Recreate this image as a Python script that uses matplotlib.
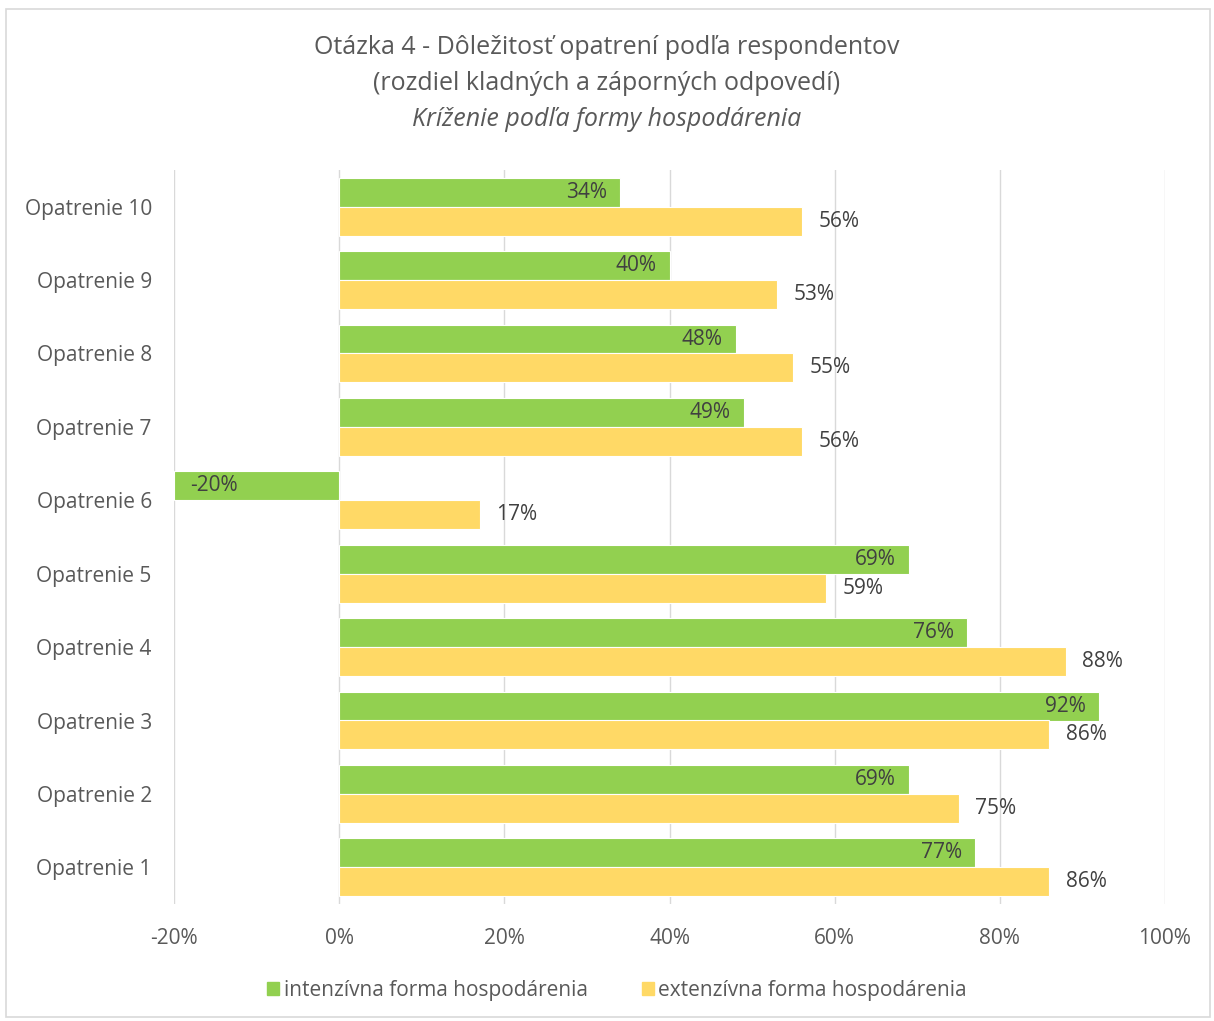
import matplotlib
matplotlib.use("Agg")
import matplotlib.pyplot as plt
from matplotlib.patches import Rectangle
import numpy as np

plt.rcParams['font.family'] = ['Open Sans', 'DejaVu Sans']

categories = ["Opatrenie 1", "Opatrenie 2", "Opatrenie 3", "Opatrenie 4", "Opatrenie 5",
              "Opatrenie 6", "Opatrenie 7", "Opatrenie 8", "Opatrenie 9", "Opatrenie 10"]
intenzivna = [77, 69, 92, 76, 69, -20, 49, 48, 40, 34]
extenzivna = [86, 75, 86, 88, 59, 17, 56, 55, 53, 56]
series_names = ["intenzívna forma hospodárenia", "extenzívna forma hospodárenia"]
xticks = [-20, 0, 20, 40, 60, 80, 100]

GREEN = "#92D050"
YELLOW = "#FFD966"
TXT = "#595959"
DARK = "#404040"

fig = plt.figure(figsize=(12.14, 10.21), dpi=100)
ax = fig.add_axes([174/1214, 1-904/1021, (1165-174)/1214, (904-170)/1021])

y = np.arange(len(categories))
h = 0.395
ax.barh(y + h/2, intenzivna, height=h, color=GREEN, edgecolor="white", linewidth=0.8, zorder=3)
ax.barh(y - h/2, extenzivna, height=h, color=YELLOW, edgecolor="white", linewidth=0.8, zorder=3)

fs = 15
for yi, v in zip(y, intenzivna):
    if v >= 0:
        ax.text(v - 1.6, yi + h/2, f"{v}%", ha="right", va="center", fontsize=fs, color=DARK, zorder=4)
    else:
        ax.text(v + 1.9, yi + h/2, f"{v}%", ha="left", va="center", fontsize=fs, color=DARK, zorder=4)
for yi, v in zip(y, extenzivna):
    ax.text(v + 2.0, yi - h/2, f"{v}%", ha="left", va="center", fontsize=fs, color=DARK, zorder=4)

ax.set_xlim(-20, 100)
ax.set_ylim(-0.5, len(categories) - 0.5)
ax.set_xticks(xticks)
ax.set_xticklabels([f"{t}%" for t in xticks], fontsize=fs, color=TXT)
ax.set_yticks(y)
ax.set_yticklabels(categories, fontsize=fs, color=TXT)
ax.tick_params(axis="both", length=0)
ax.tick_params(axis="x", pad=17)
ax.tick_params(axis="y", pad=16)
ax.grid(axis="x", color="#D9D9D9", linewidth=1.0, zorder=0)
for s in ax.spines.values():
    s.set_visible(False)

tfs = 18
fig.text(0.5, 1-48/1021, "Otázka 4 - Dôležitosť opatrení podľa respondentov", ha="center", va="center",
         fontsize=tfs, color=TXT)
fig.text(0.5, 1-83/1021, "(rozdiel kladných a záporných odpovedí)", ha="center", va="center",
         fontsize=tfs, color=TXT)
fig.text(0.5, 1-120/1021, "Kríženie podľa formy hospodárenia", ha="center", va="center",
         fontsize=tfs, color=TXT, style="italic")

handles = [Rectangle((0, 0), 1, 1, color=GREEN), Rectangle((0, 0), 1, 1, color=YELLOW)]
fig.legend(handles, series_names, loc="center", bbox_to_anchor=(617/1214, 1-990/1021), ncol=2,
           frameon=False, fontsize=fs, labelcolor=TXT, handlelength=0.6, handleheight=0.6,
           handletextpad=0.2, columnspacing=2.6)

fig.patches.append(Rectangle((6/1214, 4/1021), 1204/1214, 1-13/1021, transform=fig.transFigure,
                             fill=False, edgecolor="#D9D9D9", linewidth=1.2))

fig.savefig("out.png", dpi=100, facecolor="white")
